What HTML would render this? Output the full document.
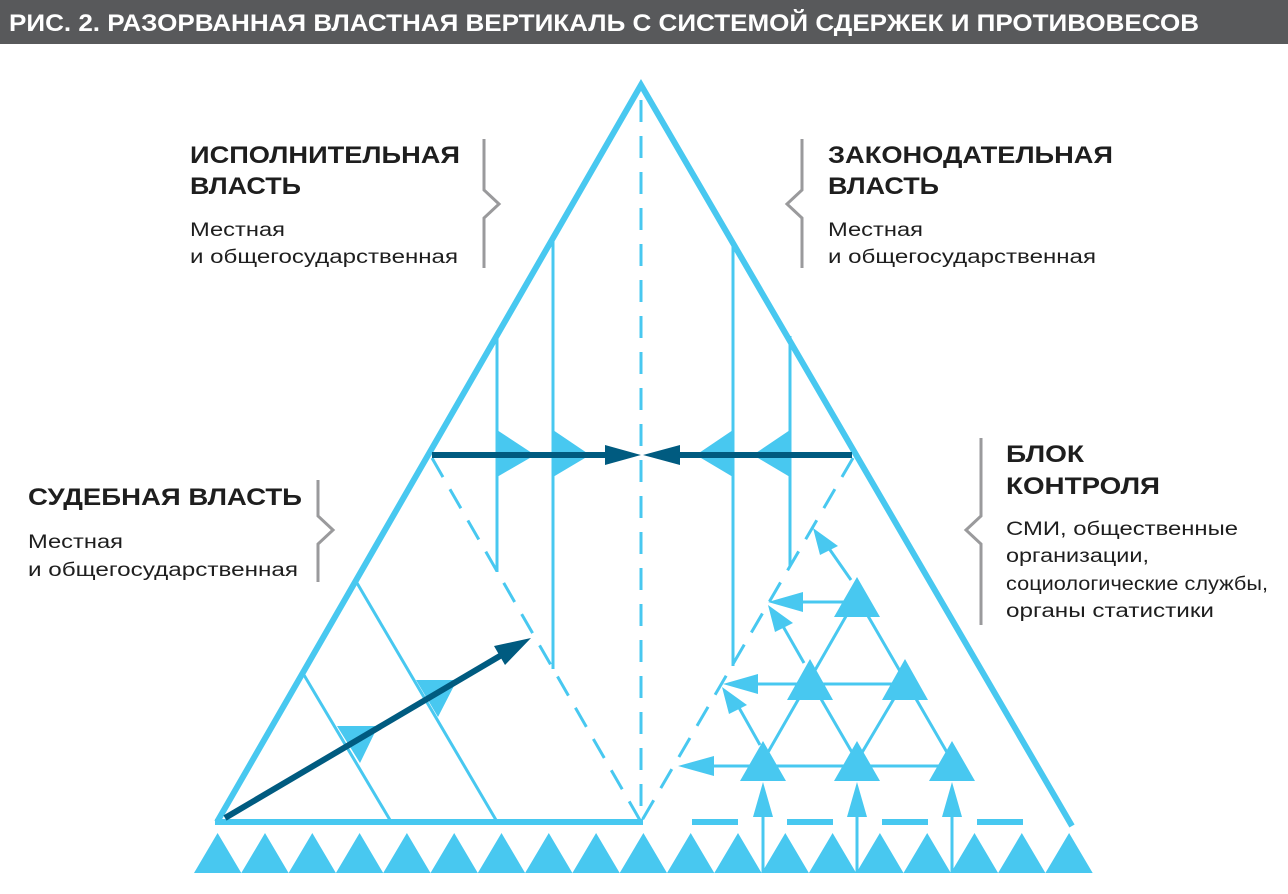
<!DOCTYPE html>
<html><head><meta charset="utf-8"><style>html,body{margin:0;padding:0;background:#fff}svg{display:block}</style></head>
<body>
<svg width="1288" height="894" viewBox="0 0 1288 894" xmlns="http://www.w3.org/2000/svg" font-family="'Liberation Sans', sans-serif">
<rect x="0" y="0" width="1288" height="44" fill="#58595b"/>
<text x="9" y="31" font-size="24" font-weight="bold" fill="#fff" textLength="1190" lengthAdjust="spacingAndGlyphs">РИС. 2. РАЗОРВАННАЯ ВЛАСТНАЯ ВЕРТИКАЛЬ С СИСТЕМОЙ СДЕРЖЕК И ПРОТИВОВЕСОВ</text>

<g fill="#1e1e1e">
<text x="190" y="163" font-size="24" font-weight="bold" textLength="270" lengthAdjust="spacingAndGlyphs">ИСПОЛНИТЕЛЬНАЯ</text>
<text x="190" y="194" font-size="24" font-weight="bold" textLength="111" lengthAdjust="spacingAndGlyphs">ВЛАСТЬ</text>
<text x="190" y="236" font-size="19" textLength="95" lengthAdjust="spacingAndGlyphs">Местная</text>
<text x="190" y="263" font-size="19" textLength="268" lengthAdjust="spacingAndGlyphs">и общегосударственная</text>

<text x="828" y="163" font-size="24" font-weight="bold" textLength="285" lengthAdjust="spacingAndGlyphs">ЗАКОНОДАТЕЛЬНАЯ</text>
<text x="828" y="194" font-size="24" font-weight="bold" textLength="111" lengthAdjust="spacingAndGlyphs">ВЛАСТЬ</text>
<text x="828" y="236" font-size="19" textLength="95" lengthAdjust="spacingAndGlyphs">Местная</text>
<text x="828" y="263" font-size="19" textLength="268" lengthAdjust="spacingAndGlyphs">и общегосударственная</text>

<text x="28" y="505" font-size="24" font-weight="bold" textLength="274" lengthAdjust="spacingAndGlyphs">СУДЕБНАЯ ВЛАСТЬ</text>
<text x="28" y="548" font-size="19" textLength="95" lengthAdjust="spacingAndGlyphs">Местная</text>
<text x="28" y="576" font-size="19" textLength="270" lengthAdjust="spacingAndGlyphs">и общегосударственная</text>

<text x="1006" y="462" font-size="24" font-weight="bold" textLength="78" lengthAdjust="spacingAndGlyphs">БЛОК</text>
<text x="1006" y="494" font-size="24" font-weight="bold" textLength="154" lengthAdjust="spacingAndGlyphs">КОНТРОЛЯ</text>
<text x="1006" y="535" font-size="19" textLength="232" lengthAdjust="spacingAndGlyphs">СМИ, общественные</text>
<text x="1006" y="562" font-size="19" textLength="143" lengthAdjust="spacingAndGlyphs">организации,</text>
<text x="1006" y="590" font-size="19" textLength="262" lengthAdjust="spacingAndGlyphs">социологические службы,</text>
<text x="1006" y="617" font-size="19" textLength="208" lengthAdjust="spacingAndGlyphs">органы статистики</text>
</g>

<g fill="none" stroke="#9a9a9c" stroke-width="3">
<polyline points="484,139 484,190 499,204 484,218 484,268"/>
<polyline points="802,139 802,190 787,204 802,218 802,268"/>
<polyline points="318,480 318,516 333,530 318,544 318,582"/>
<polyline points="981,438 981,516 966,530 981,544 981,625"/>
</g>

<g stroke="#48c8f0" fill="none">
<!-- main triangle -->
<polyline points="217,822 641,85 1072,826" stroke-width="6"/>
<line x1="215" y1="822" x2="643" y2="822" stroke-width="6"/>
<!-- dashed base segments -->
<g stroke-width="6">
<line x1="692" y1="822" x2="738" y2="822"/>
<line x1="787" y1="822" x2="833" y2="822"/>
<line x1="882" y1="822" x2="928" y2="822"/>
<line x1="977" y1="822" x2="1023" y2="822"/>
</g>
<!-- dashed lines -->
<g stroke-width="3" stroke-dasharray="22,14">
<line x1="641" y1="100" x2="641" y2="822"/>
<line x1="432" y1="458" x2="641" y2="822"/>
<line x1="853" y1="458" x2="641" y2="822"/>
</g>
<!-- vertical lines -->
<g stroke-width="3">
<line x1="497" y1="336" x2="497" y2="572"/>
<line x1="553" y1="240" x2="553" y2="669"/>
<line x1="733" y1="240" x2="733" y2="666"/>
<line x1="790" y1="336" x2="790" y2="566"/>
<!-- left sub triangle lines -->
<line x1="357" y1="583" x2="496" y2="820"/>
<line x1="304" y1="675" x2="390" y2="820"/>
<!-- grid -->
<line x1="857" y1="597" x2="763" y2="761"/>
<line x1="857" y1="597" x2="952" y2="761"/>
<line x1="810" y1="680" x2="857" y2="761"/>
<line x1="905" y1="680" x2="857" y2="761"/>
<line x1="700" y1="766" x2="952" y2="766"/>
<line x1="745" y1="684" x2="905" y2="684"/>
<line x1="790" y1="602" x2="857" y2="602"/>
<line x1="760" y1="745" x2="733" y2="697"/>
<line x1="804" y1="663" x2="776" y2="614"/>
<line x1="851" y1="580" x2="821" y2="537"/>
<line x1="763" y1="873" x2="763" y2="810"/>
<line x1="857" y1="873" x2="857" y2="810"/>
<line x1="952" y1="873" x2="952" y2="810"/>
</g>
</g>

<g fill="#48c8f0">
<!-- bottom triangles -->
<path d="M194,873 L217.6,833 L241.3,873Z M241.3,873 L265,833 L288.6,873Z M288.6,873 L312.3,833 L335.9,873Z M335.9,873 L359.6,833 L383.2,873Z M383.2,873 L406.9,833 L430.5,873Z M430.5,873 L454.2,833 L477.8,873Z M477.8,873 L501.5,833 L525.1,873Z M525.1,873 L548.8,833 L572.4,873Z M572.4,873 L596.1,833 L619.7,873Z M619.7,873 L643.4,833 L667,873Z M667,873 L690.7,833 L714.3,873Z M714.3,873 L738,833 L761.6,873Z M761.6,873 L785.3,833 L808.9,873Z M808.9,873 L832.6,833 L856.2,873Z M856.2,873 L879.9,833 L903.5,873Z M903.5,873 L927.2,833 L950.8,873Z M950.8,873 L974.5,833 L998.1,873Z M998.1,873 L1021.8,833 L1045.4,873Z M1045.4,873 L1069.1,833 L1092.7,873Z"/>
<!-- grid triangles -->
<path d="M740,781 L763,741 L786,781Z M834,781 L857,741 L880,781Z M929,781 L952,741 L975,781Z M787,700 L810,659 L833,700Z M882,700 L905,659 L928,700Z M834,617 L857,577 L880,617Z"/>
<!-- vertical arrowheads -->
<path d="M753,817 L763,782 L773,817Z M847,817 L857,782 L867,817Z M942,817 L952,782 L962,817Z"/>
<!-- horizontal left arrowheads -->
<path d="M678,766 L714,756 L714,776Z M723,684 L758,674 L758,694Z M768,602 L803,592 L803,612Z"/>
<!-- diagonal arrowheads -->
<path d="M722,687 L747,705 L729,714Z M768,605 L793,623 L775,632Z M813,528 L838,546 L820,555Z"/>
<!-- flags on horizontal bar -->
<path d="M497,430 L497,477 L535,455Z M553,430 L553,477 L590,455Z M733,430 L733,477 L696,455Z M790,430 L790,477 L753,455Z"/>
<!-- left small flags -->
<path d="M337,726 L378,726 L360,763Z M416,680 L457,680 L438,717Z"/>
</g>

<g stroke="#005b80" stroke-width="6" fill="none">
<line x1="432" y1="455" x2="610" y2="455"/>
<line x1="852" y1="455" x2="675" y2="455"/>
<line x1="225" y1="818" x2="505" y2="653"/>
</g>
<g fill="#005b80">
<path d="M641,455 L605,445 L605,465Z M643,455 L680,445 L680,465Z"/>
<path d="M531,638 L494,646 L505,665Z"/>
</g>
</svg>
</body></html>
